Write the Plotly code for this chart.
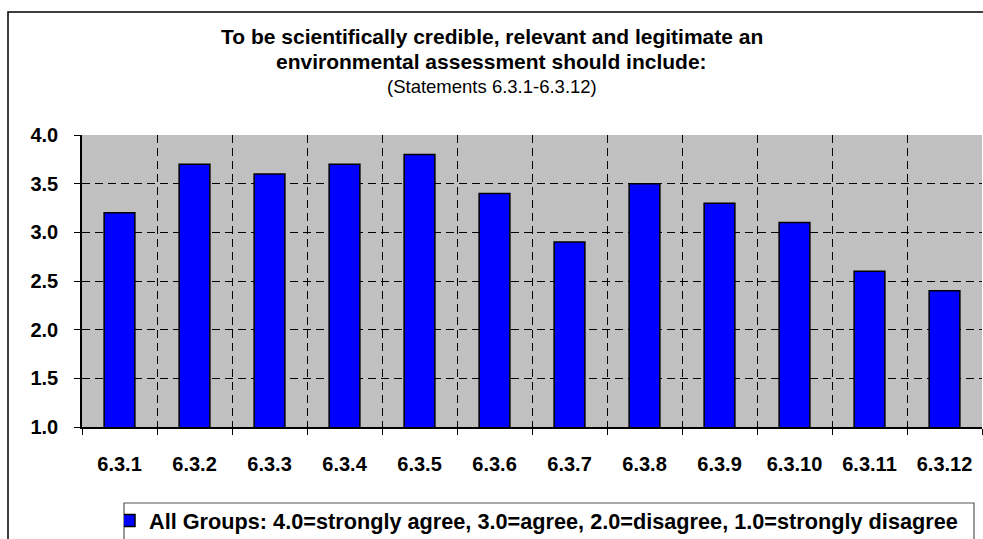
import plotly.graph_objects as go

categories = ["6.3.1", "6.3.2", "6.3.3", "6.3.4", "6.3.5", "6.3.6",
              "6.3.7", "6.3.8", "6.3.9", "6.3.10", "6.3.11", "6.3.12"]
values = [3.2, 3.7, 3.6, 3.7, 3.8, 3.4, 2.9, 3.5, 3.3, 3.1, 2.6, 2.4]
series_name = "All Groups: 4.0=strongly agree, 3.0=agree, 2.0=disagree, 1.0=strongly disagree"
y_ticks = [1.0, 1.5, 2.0, 2.5, 3.0, 3.5, 4.0]
title_lines = ["To be scientifically credible, relevant and legitimate an",
               "environmental assessment should include:"]
subtitle = "(Statements 6.3.1-6.3.12)"

FONT = "Liberation Sans, Arial, sans-serif"

# plot area in pixels: x 82..982, y 135..427
L, R, T, B = 82, 982, 135, 427
W, H = 983, 539
PW, PH = R - L, B - T


def px(x):
    return (x - L) / PW


def py(y):
    return (B - y) / PH


fig = go.Figure()
fig.add_trace(go.Bar(
    x=categories, y=values, name=f"<b>{series_name}</b>",
    marker=dict(color="#0000FF", line=dict(color="black", width=1.5)),
    showlegend=True,
))

annotations = [
    dict(text=f"<b>{title_lines[0]}</b>", x=px(491.5), y=py(36)),
    dict(text=f"<b>{title_lines[1]}</b>", x=px(491.5), y=py(61)),
    dict(text=subtitle, x=px(491.5), y=py(86), font=dict(size=18.5, family=FONT, color="black")),
]
for a in annotations:
    a.update(xref="paper", yref="paper", xanchor="center", yanchor="middle", showarrow=False)
    a.setdefault("font", dict(size=21, family=FONT, color="black"))

fig.update_layout(
    width=W, height=H,
    margin=dict(l=L, r=W - R, t=T, b=H - B, autoexpand=False),
    paper_bgcolor="white",
    plot_bgcolor="#C0C0C0",
    bargap=0.59,
    font=dict(family=FONT, color="black"),
    annotations=annotations,
    xaxis=dict(
        type="category",
        tickson="boundaries",
        showgrid=True, gridcolor="black", griddash="8px,5px", gridwidth=1,
        ticks="outside", ticklen=6, tickcolor="black",
        showline=True, linecolor="black", linewidth=1.5,
        tickfont=dict(size=20, family=FONT),
        ticklabelstandoff=18,
        automargin=False,
        tickvals=categories,
        ticktext=[f"<b>{c}</b>" for c in categories],
    ),
    yaxis=dict(
        range=[1.0, 4.0],
        tickvals=y_ticks,
        ticktext=[f"<b>{v:.1f}</b>" for v in y_ticks],
        showgrid=True, gridcolor="black", griddash="8px,5px", gridwidth=1,
        ticks="outside", ticklen=6, tickcolor="black",
        showline=True, linecolor="black", linewidth=1.5,
        tickfont=dict(size=20, family=FONT),
        ticklabelstandoff=12,
        zeroline=False,
        automargin=False,
    ),
    legend=dict(
        orientation="h",
        x=px(124), xanchor="left",
        y=py(500), yanchor="top",
        borderwidth=0,
        bgcolor="rgba(0,0,0,0)",
        font=dict(size=21.7, family=FONT),
        itemwidth=30,
        indentation=-15,
    ),
    shapes=[
        dict(
            type="rect", xref="paper", yref="paper",
            x0=px(8), x1=px(990), y0=py(560), y1=py(12),
            line=dict(color="black", width=1.5), fillcolor="rgba(0,0,0,0)",
            layer="below",
        ),
        dict(
            type="rect", xref="paper", yref="paper",
            x0=px(124), x1=px(974), y0=py(560), y1=py(503),
            line=dict(color="#555555", width=1.2), fillcolor="white",
            layer="below",
        ),
    ],
)

fig.write_html(
    "out.html",
    config={"displayModeBar": False},
    post_script="document.body.style.margin='0';document.body.style.overflow='hidden';",
)
